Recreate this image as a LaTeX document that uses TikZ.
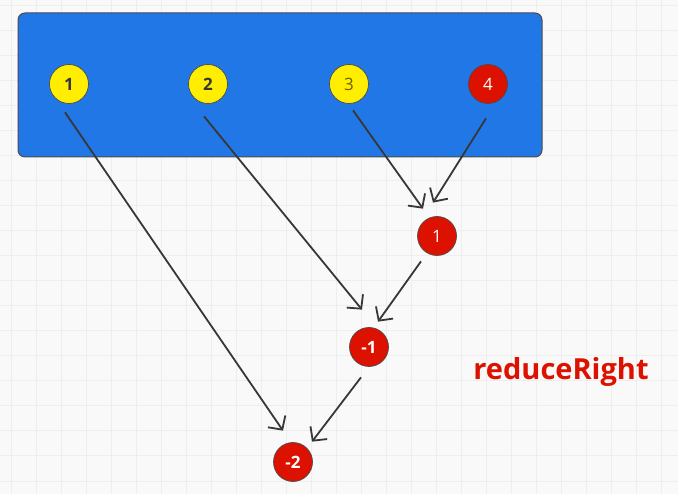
\documentclass[tikz,border=0pt]{standalone}
\usepackage{fontspec}
\setmainfont{Open Sans}
\usetikzlibrary{arrows.meta,backgrounds,shapes}
\definecolor{fond}{RGB}{249,249,249}
\definecolor{grille}{RGB}{238,238,238}
\definecolor{bleu}{RGB}{34,119,230}
\definecolor{jaune}{RGB}{255,238,0}
\definecolor{rouge}{RGB}{221,17,0}
\definecolor{olive}{RGB}{110,95,0}
\definecolor{trait}{RGB}{55,55,55}
\definecolor{bord}{RGB}{75,75,75}

\begin{document}
\begin{tikzpicture}[x=1pt,y=-1pt]
	\tikzstyle{ball}=[circle, minimum size=39pt, inner sep=0pt, draw=bord, line width=0.7pt, font=\fontsize{17}{20}\selectfont]
	\tikzstyle{jball}=[ball, fill=jaune, text=trait]
	\tikzstyle{rball}=[ball, fill=rouge, text=white]
	\tikzstyle{fleche}=[draw=trait, line width=1.8pt, -{Straight Barb[length=10pt,width=21pt]}]

	% FOND
	\useasboundingbox[fill=fond] (0,0) rectangle (678,494);
	\draw[grille, line width=1pt, shift={(11,6)}] (-11,-6) grid[step=25pt] (667,488);

	% TABLEAU
	\draw[fill=bleu, draw=bord, line width=1pt, rounded corners=7pt] (18,13) rectangle (542,157);

	% ELEMENTS
	\node[jball] (A1) at (69,84) {\textbf{1}};
	\node[jball] (A2) at (208,84) {\textbf{2}};
	\node[jball, text=olive] (A3) at (349,84) {3};
	\node[rball] (A4) at (488,84) {4};

	% RESULTATS
	\node[rball] (R1) at (437,236) {1};
	\node[rball] (R2) at (369,347) {\textbf{-1}};
	\node[rball] (R3) at (293,462) {\textbf{-2}};

	\node[text=rouge, font=\fontsize{29}{34}\selectfont\bfseries] (titre) at (561,372) {reduceRight};

	% FLECHES
	\draw[fleche] ([shift={(-4,8.5)}]A1.south) -- ([shift={(-10,-11.5)}]R3.north);
	\draw[fleche] ([shift={(-4,12.5)}]A2.south) -- ([shift={(-7,-17.5)}]R2.north);
	\draw[fleche] ([shift={(4,6.5)}]A3.south) -- ([shift={(-14,-7.5)}]R1.north);
	\draw[fleche] ([shift={(-2,14.5)}]A4.south) -- ([shift={(-4,-13.5)}]R1.north);
	\draw[fleche] ([shift={(-16,5.5)}]R1.south) -- ([shift={(9,-5.5)}]R2.north);
	\draw[fleche] ([shift={(-8,10.5)}]R2.south) -- ([shift={(19,-0.5)}]R3.north);
\end{tikzpicture}
\end{document}
